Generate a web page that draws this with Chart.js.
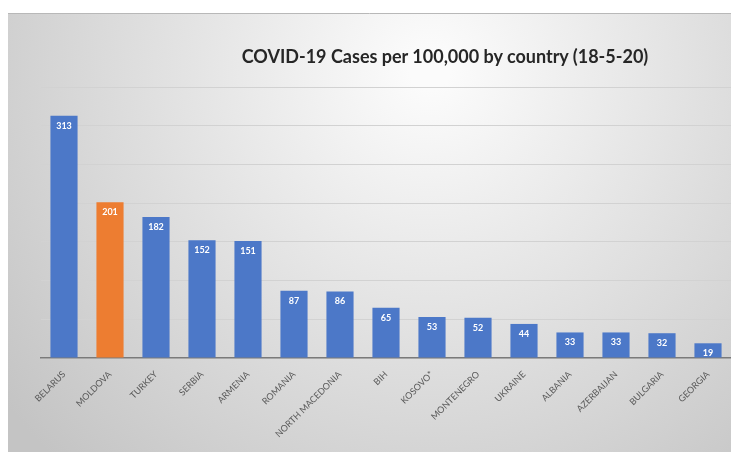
<!DOCTYPE html>
<html>
<head>
<meta charset="utf-8">
<script src="https://cdn.jsdelivr.net/npm/chart.js@4.4.1/dist/chart.umd.min.js"></script>
<style>
  html, body { margin: 0; padding: 0; background: #fff; }
  #wrap { position: relative; width: 731px; height: 452px; }
  #title {
    position: absolute; left: 225px; top: 45px; width: 440px; text-align: center;
    font-family: Lato, sans-serif; font-weight: 700; font-size: 18px; color: #262626;
    white-space: nowrap;
  }
</style>
</head>
<body>
<div id="wrap">
  <canvas id="mainChart" width="731" height="452"></canvas>
  <div id="title">COVID-19 Cases per 100,000 by country (18-5-20)</div>
</div>
<script>
const countries = ["BELARUS", "MOLDOVA", "TURKEY", "SERBIA", "ARMENIA", "ROMANIA", "NORTH MACEDONIA", "BIH",
    "KOSOVO*", "MONTENEGRO", "UKRAINE", "ALBANIA", "AZERBAIJAN", "BULGARIA", "GEORGIA"];
const cases = [313, 201, 182, 152, 151, 87, 86, 65, 53, 52, 44, 33, 33, 32, 19];
const highlight = "MOLDOVA";

const blue = "#4c78c8";
const orange = "#ed7d31";
const colors = countries.map(c => c == highlight ? orange : blue);

// gray slide-like background
const bgPlugin = {
    id: 'bg',
    beforeDraw(chart) {
        const ctx = chart.ctx;
        ctx.save();
        const g = ctx.createRadialGradient(430, 70, 20, 430, 70, 540);
        g.addColorStop(0, "#fbfbfb");
        g.addColorStop(1, "#c4c4c4");
        ctx.fillStyle = g;
        ctx.fillRect(8, 13, chart.width - 8, chart.height - 13);
        ctx.strokeStyle = "#b8b8b8";
        ctx.beginPath();
        ctx.moveTo(8, 13.5);
        ctx.lineTo(chart.width, 13.5);
        ctx.stroke();
        ctx.restore();
    }
};

// white value inside the top of each bar
const valuePlugin = {
    id: 'values',
    afterDatasetsDraw(chart) {
        const ctx = chart.ctx;
        const meta = chart.getDatasetMeta(0);
        ctx.save();
        ctx.fillStyle = "#ffffff";
        ctx.font = "bold 9px Lato, sans-serif";
        ctx.textAlign = "center";
        ctx.textBaseline = "middle";
        meta.data.forEach((bar, i) => {
            ctx.fillText(cases[i], bar.x, bar.y + 10);
        });
        ctx.restore();
    }
};

new Chart(document.getElementById("mainChart"), {
    type: 'bar',
    data: {
        labels: countries,
        datasets: [{
            data: cases,
            backgroundColor: colors,
            barPercentage: 0.59,
            categoryPercentage: 1
        }]
    },
    options: {
        responsive: false,
        animation: false,
        layout: { padding: { left: 41, right: 0, top: 87, bottom: 0 } },
        plugins: {
            legend: { display: false },
            title: { display: false },
            tooltip: { enabled: false }
        },
        scales: {
            x: {
                grid: { display: false },
                border: { display: true, color: "#7a7a7a", width: 1.5 },
                ticks: {
                    color: "#595959",
                    font: { family: "Lato, sans-serif", size: 9 },
                    maxRotation: 45,
                    minRotation: 45,
                    autoSkip: false,
                    padding: 3
                },
                afterFit(scale) { scale.height = 94; }
            },
            y: {
                min: 0,
                max: 350,
                ticks: { display: false, stepSize: 50 },
                grid: { color: "#d2d2d2", lineWidth: 1, drawTicks: false },
                border: { display: false },
                afterFit(scale) { scale.width = 0; }
            }
        }
    },
    plugins: [bgPlugin, valuePlugin]
});
</script>
</body>
</html>
